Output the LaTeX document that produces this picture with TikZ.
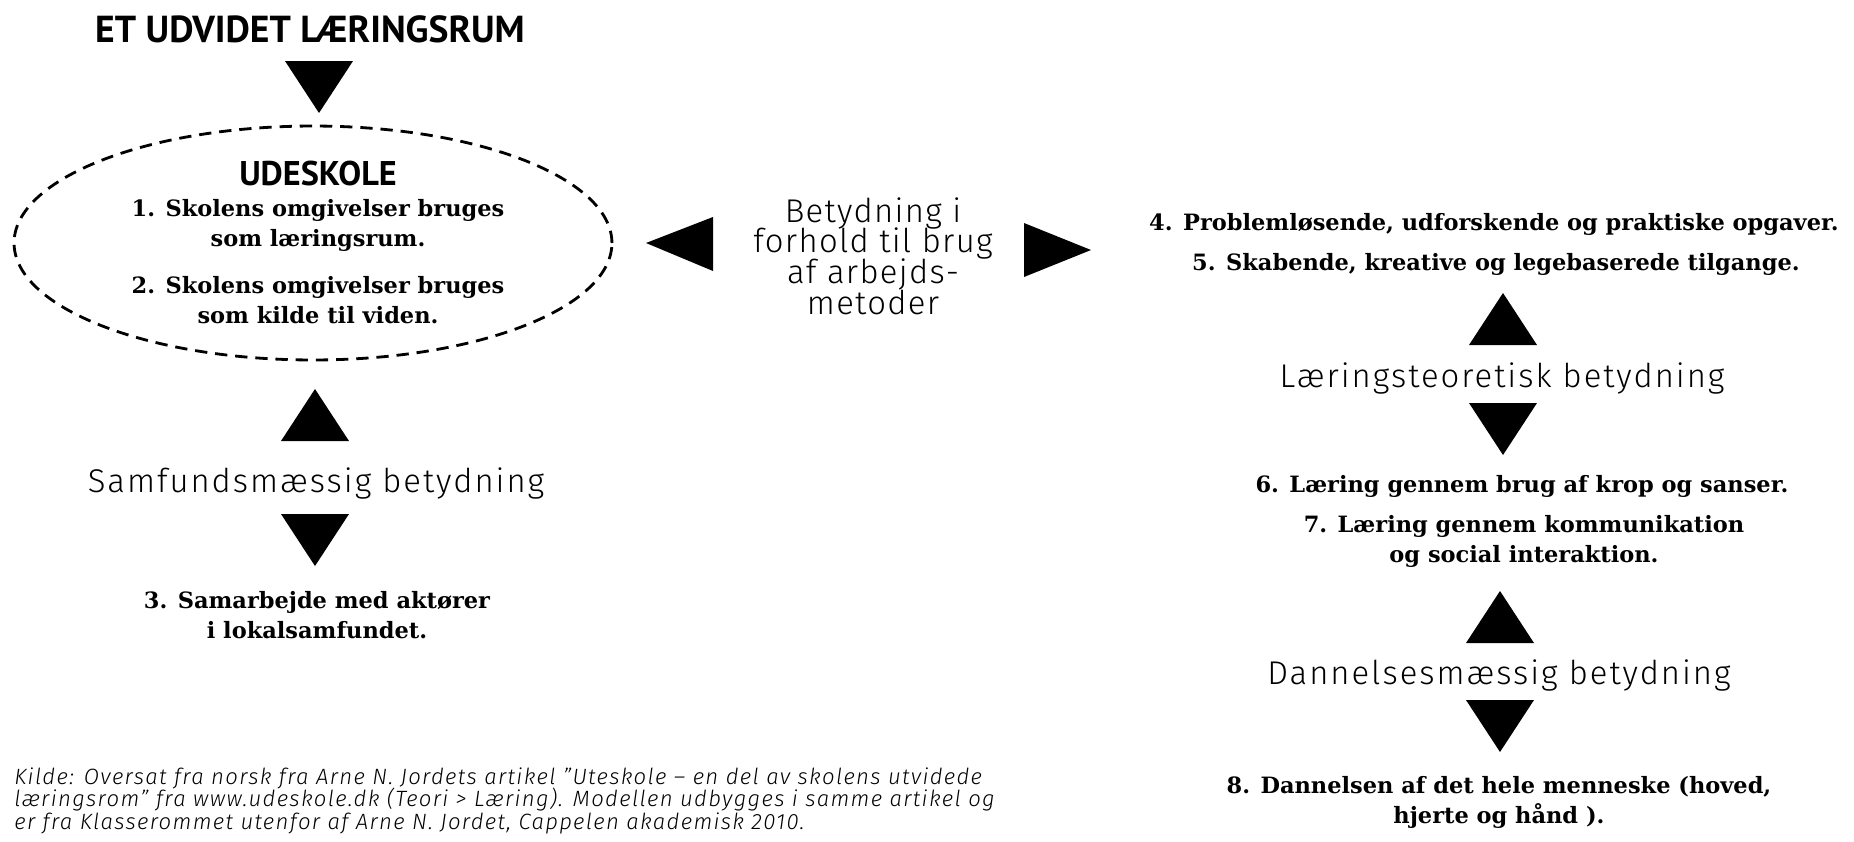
\documentclass[tikz,border=0pt]{standalone}
\usepackage{fontspec}
\setmainfont{DejaVu Serif}
\newfontfamily\headfont{PT Sans}
\IfFontExistsTF{Fira Sans Light}
	{\newfontfamily\labelfont{Fira Sans Light}[LetterSpace=6]}
	{\newfontfamily\labelfont{Fira Sans}[LetterSpace=6]}
\usetikzlibrary{positioning}
\usetikzlibrary{shapes.geometric}
\newcommand{\tridown}[1]{\fill (#1) +(-34,0) -- +(34,0) -- +(0,52) -- cycle;}
\newcommand{\triup}[1]{\fill (#1) +(-34,0) -- +(34,0) -- +(0,-52) -- cycle;}
\newcommand{\tightlines}{\lineskiplimit=-20pt\relax}

\begin{document}
\begin{tikzpicture}[x=0.02cm,y=-0.02cm,
every node/.style={inner sep=0pt,anchor=base},
item/.style={align=center,font=\bfseries\fontsize{12.8}{17}\selectfont},
lbl/.style={align=center,font={\labelfont\fontsize{18.7}{17}\selectfont\tightlines}},
head/.style={font=\headfont\bfseries\fontsize{#1}{#1}\selectfont},
ring/.style={draw,ellipse,line width=1.6pt,dash pattern=on 7pt off 4.5pt}]
\useasboundingbox (0,0) rectangle (1854,842);
\fill[white] (0,0) rectangle (1854,842);

%left column (multi line nodes sit on their last line)
\node[head=21.4] (t) at (310,42) {ET UDVIDET LÆRINGSRUM};
\node[ring,minimum width=11.96cm,minimum height=4.68cm,anchor=center] (e) at (313,243) {};
\node[head=19.5] (u) at (318,185) {UDESKOLE};
\node[item] (1) at (318,246) {1. Skolens omgivelser bruges\\som læringsrum.};
\node[item] (2) at (318,323) {2. Skolens omgivelser bruges\\som kilde til viden.};
\node[lbl] (s) at (316,492) {Samfundsmæssig betydning};
\node[item] (3) at (317,638) {3. Samarbejde med aktører\\i lokalsamfundet.};

%middle
\node[lbl,font={\labelfont\addfontfeatures{LetterSpace=4}\fontsize{18.7}{17.4}\selectfont\tightlines}] (m) at (873,314)
	{Betydning i\\forhold til brug\\af arbejds-\\metoder};

%right column
\node[item] (4) at (1494,230) {4. Problemløsende, udforskende og praktiske opgaver.};
\node[item] (5) at (1496,270) {5. Skabende, kreative og legebaserede tilgange.};
\node[lbl] (l) at (1502,387) {Læringsteoretisk betydning};
\node[item] (6) at (1522,492) {6. Læring gennem brug af krop og sanser.};
\node[item] (7) at (1524,562) {7. Læring gennem kommunikation\\og social interaktion.};
\node[lbl] (d) at (1499,684) {Dannelsesmæssig betydning};
\node[item] (8) at (1499,823) {8. Dannelsen af det hele menneske (hoved,\\hjerte og hånd ).};

%source
\node[align=left,anchor=base west,font={\labelfont\itshape\fontsize{12.6}{12.6}\selectfont\tightlines}] (k) at (14,829)
	{Kilde: Oversat fra norsk fra Arne N. Jordets artikel ”Uteskole – en del av skolens utvidede\\
	læringsrom” fra www.udeskole.dk (Teori > Læring). Modellen udbygges i samme artikel og\\
	er fra Klasserommet utenfor af Arne N. Jordet, Cappelen akademisk 2010.};

%pointers
\foreach \x/\y in {319/61,315/514,1503/403,1500/700}
	{\coordinate (dn) at (\x,\y); \tridown{dn}}
\foreach \x/\y in {315/441,1503/345,1500/643}
	{\coordinate (up) at (\x,\y); \triup{up}}
\fill (646,243) -- (713,217) -- (713,271) -- cycle;
\fill (1091,250) -- (1024,223) -- (1024,277) -- cycle;
\end{tikzpicture}
\end{document}
